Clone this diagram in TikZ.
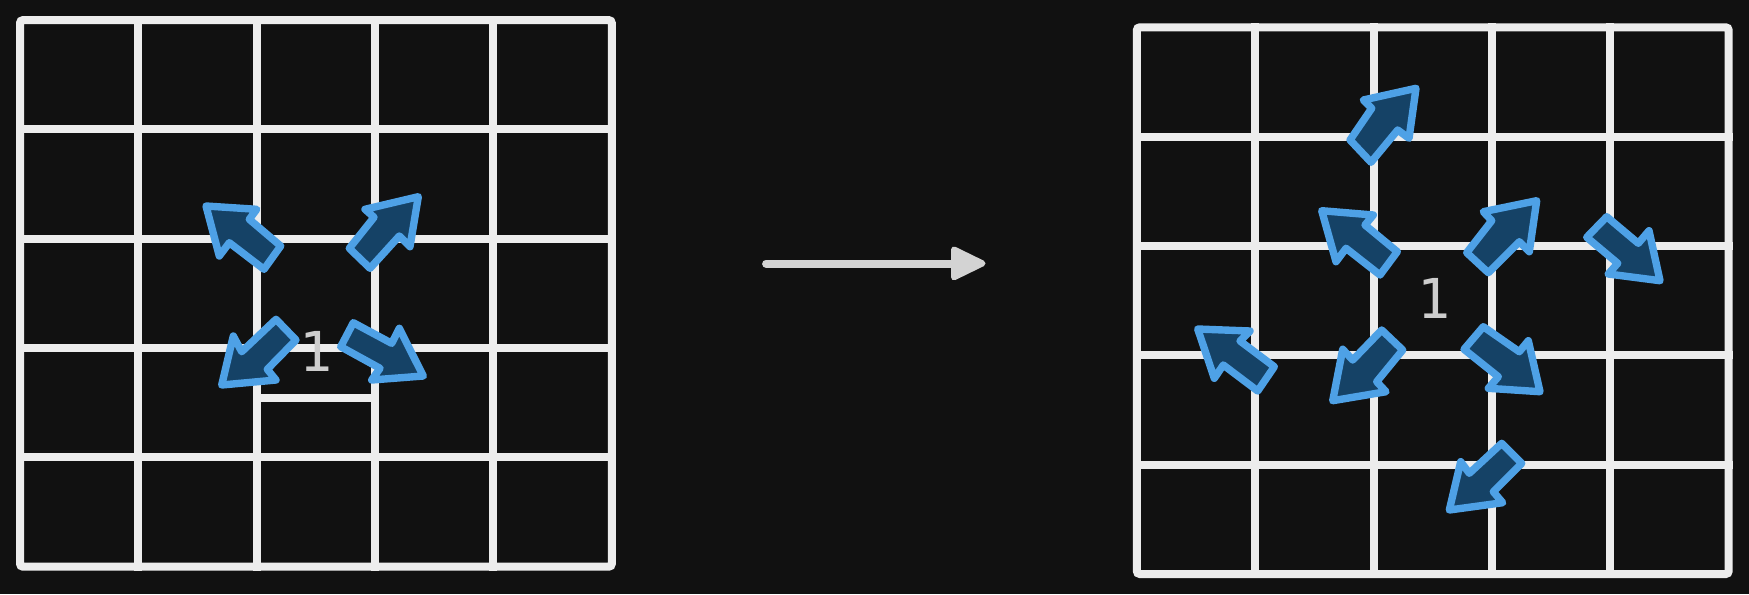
\documentclass[tikz,border=0pt]{standalone}
\usepackage{fontspec}
\newfontfamily\digitfont{DejaVu Sans Mono}
\definecolor{bgc}{HTML}{111111}
\definecolor{gridc}{HTML}{EDEDED}
\definecolor{bluestroke}{RGB}{78,161,230}
\definecolor{bluefill}{RGB}{21,66,102}
\definecolor{arrowgray}{HTML}{D3D3D3}
\definecolor{digitc}{HTML}{CDCDCD}
\tikzset{
  gridline/.style={draw=gridc, line width=4pt, line cap=rect},
  gridframe/.style={draw=gridc, line width=4pt, rounded corners=1.5pt},
  blockarrow/.style={draw=bluestroke, fill=bluefill, line width=3.7pt, line join=round},
  digit/.style={text=digitc, inner sep=0pt, font=\digitfont\fontsize{27.5}{30}\selectfont},
  flowline/.style={draw=arrowgray, line width=3.9pt, line cap=round},
  flowhead/.style={draw=arrowgray, fill=arrowgray, line width=3pt, line join=round},
}
\begin{document}
\begin{tikzpicture}[x=0.5pt, y=-0.5pt]
\fill[bgc] (0,0) rectangle (1749,594);
\useasboundingbox (0,0) rectangle (1749,594);

% ---------- left grid ----------
\begin{scope}[shift={(20,20.1)}]
  \foreach \i in {1,...,4} {
    \draw[gridline] ({\i*118.36},0) -- ({\i*118.36},546.6);
    \draw[gridline] (0,{\i*109.32}) -- (591.8,{\i*109.32});
  }
  \draw[gridframe] (0,0) rectangle (591.8,546.6);
\end{scope}
\draw[draw=gridc, line width=3.8pt] (256.3,398) -- (374.7,398);
\node[digit] (leftone) at (316.5,351.7) {1};

% ---------- right grid ----------
\begin{scope}[shift={(1136.8,27.3)}]
  \foreach \i in {1,...,4} {
    \draw[gridline] ({\i*118.36},0) -- ({\i*118.36},546.7);
    \draw[gridline] (0,{\i*109.34}) -- (591.9,{\i*109.34});
  }
  \draw[gridframe] (0,0) rectangle (591.9,546.7);
\end{scope}
\node[digit] (rightone) at (1433.8,298.5) {1};

% ---------- left arrows ----------
\draw[blockarrow] (206,206) -- (256.7,209.3) -- (249.3,219.3) -- (280.7,246) -- (264,269.3) -- (229.3,242.7) -- (219.3,256) -- cycle;
\draw[blockarrow] (418.3,196.7) -- (365,209.3) -- (374,217.3) -- (349.3,248.3) -- (370,268.3) -- (399.3,236) -- (410,246.7) -- cycle;
\draw[blockarrow] (221.7,385) -- (276,380) -- (267.3,369.3) -- (296,340) -- (276,319.3) -- (241.7,351.7) -- (233.3,336) -- cycle;
\draw[blockarrow] (423.3,376) -- (399.3,328.3) -- (391.7,343.3) -- (353.3,322.7) -- (340.7,346.7) -- (380,368.3) -- (371.7,380) -- cycle;

% ---------- right arrows ----------
\draw[blockarrow] (1416,88.3) -- (1363.3,100) -- (1371.7,108.3) -- (1350,140) -- (1371,162.3) -- (1397.7,130) -- (1409,138.3) -- cycle;
\draw[blockarrow] (1321.7,210.7) -- (1373.3,215) -- (1365,225) -- (1397.3,251.7) -- (1380,275) -- (1346,248.3) -- (1336,261.7) -- cycle;
\draw[blockarrow] (1536.7,200.7) -- (1483.3,211.7) -- (1491.7,220.7) -- (1466.7,252.7) -- (1488.3,272.7) -- (1519.3,241.7) -- (1529.3,251.7) -- cycle;
\draw[blockarrow] (1606.7,216.7) -- (1638.3,243.3) -- (1649,230.7) -- (1660,280.7) -- (1608.3,274) -- (1617.7,263.3) -- (1586.7,237.3) -- cycle;
\draw[blockarrow] (1197.7,329) -- (1250,331) -- (1240,341) -- (1274.3,366.7) -- (1257.7,391) -- (1223.3,365) -- (1214.3,378.3) -- cycle;
\draw[blockarrow] (1332.7,400.7) -- (1386,391.7) -- (1376.7,381.7) -- (1402.7,350) -- (1381.7,330) -- (1352.7,360) -- (1342.7,349.3) -- cycle;
\draw[blockarrow] (1540,391.7) -- (1528.3,340.7) -- (1519.3,351.7) -- (1483.3,326.7) -- (1464,349.3) -- (1498.3,376.7) -- (1488.3,388.3) -- cycle;
\draw[blockarrow] (1449.3,510) -- (1502.7,502.7) -- (1493.3,491.7) -- (1521.7,463.3) -- (1501.7,443.3) -- (1469.3,473.3) -- (1460.7,461.7) -- cycle;

% ---------- middle arrow ----------
\coordinate (flowstart) at (766,263.6);
\coordinate (flowbase) at (953,263.6);
\draw[flowline] (flowstart) -- (flowbase);
\draw[flowhead] (954,249.5) -- (982.5,263.4) -- (954,277.3) -- cycle;
\end{tikzpicture}
\end{document}
